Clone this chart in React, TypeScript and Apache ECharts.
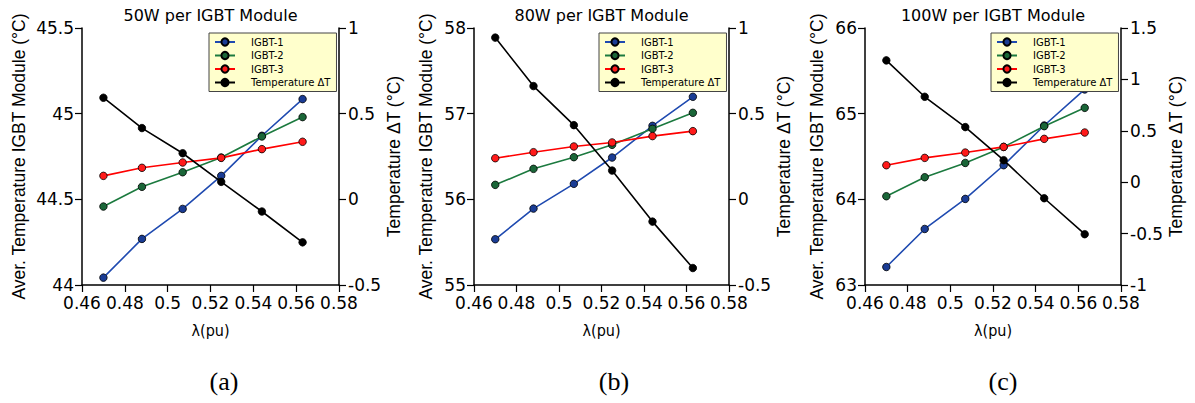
import React, { useEffect, useRef } from "react";
import * as echarts from "echarts";

// ---- data ----
const LAMBDA = [0.47, 0.488, 0.507, 0.525, 0.544, 0.563];
const X_TICKS = [0.46, 0.58, 0.02]; // min, max, interval

const PANEL_TITLES = ["50W per IGBT Module", "80W per IGBT Module", "100W per IGBT Module"];
const PANEL_TAGS = ["(a)", "(b)", "(c)"];
const SERIES_NAMES = ["IGBT-1", "IGBT-2", "IGBT-3", "Temperature ΔT"];

const A_IGBT1 = [44.043, 44.269, 44.444, 44.637, 44.871, 45.085];
const A_IGBT2 = [44.458, 44.573, 44.658, 44.744, 44.867, 44.98];
const A_IGBT3 = [44.637, 44.684, 44.715, 44.742, 44.793, 44.836];
const A_DT = [0.593, 0.416, 0.269, 0.102, -0.071, -0.251];

const B_IGBT1 = [55.534, 55.892, 56.181, 56.488, 56.858, 57.197];
const B_IGBT2 = [56.169, 56.356, 56.492, 56.636, 56.823, 57.01];
const B_IGBT3 = [56.48, 56.55, 56.617, 56.664, 56.738, 56.796];
const B_DT = [0.944, 0.661, 0.433, 0.168, -0.13, -0.401];

const C_IGBT1 = [63.21, 63.654, 64.005, 64.398, 64.862, 65.283];
const C_IGBT2 = [64.036, 64.258, 64.425, 64.612, 64.854, 65.068];
const C_IGBT3 = [64.398, 64.484, 64.546, 64.612, 64.706, 64.78];
const C_DT = [1.185, 0.831, 0.536, 0.214, -0.156, -0.506];

// left axis [min, max, interval], right axis [min, max, interval]
const LEFT_RANGES = [
  [44, 45.5, 0.5],
  [55, 58, 1],
  [63, 66, 1],
];
const RIGHT_RANGES = [
  [-0.5, 1, 0.5],
  [-0.5, 1, 0.5],
  [-1, 1.5, 0.5],
];

const PANEL_DATA = [
  [A_IGBT1, A_IGBT2, A_IGBT3, A_DT],
  [B_IGBT1, B_IGBT2, B_IGBT3, B_DT],
  [C_IGBT1, C_IGBT2, C_IGBT3, C_DT],
];

// ---- style ----
const COLORS = ["#1f4ab0", "#1c7a3f", "#ff0000", "#000000"];
const MARKER_FILL = ["#1a3c94", "#1a6638", "#ff1a1a", "#000000"];
const GRIDS = [
  { left: 82, width: 257, leftNameGap: 54 },
  { left: 474, width: 255, leftNameGap: 39 },
  { left: 865, width: 256, leftNameGap: 39 },
];
const TAG_X = [224, 614, 1003];
const GRID_TOP = 28;
const GRID_H = 257;

const WIDE = "DejaVu Sans, Verdana, sans-serif";
const ARIAL = "Liberation Sans, Arial, sans-serif";
const NARROW = "Liberation Sans Narrow, DejaVu Sans Condensed, Arial Narrow, sans-serif";

export default function App() {
  const ref = useRef<HTMLDivElement>(null);

  useEffect(() => {
    if (!ref.current) return;
    const chart = echarts.init(ref.current, null, { renderer: "svg" });

    const axisLine = { show: true, onZero: false, lineStyle: { color: "#000", width: 1.5 } };
    const axisTick = { show: true, inside: false, length: 7, lineStyle: { color: "#000", width: 1.2 } };

    const grid: any[] = [];
    const xAxis: any[] = [];
    const yAxis: any[] = [];
    const series: any[] = [];
    const legend: any[] = [];
    const graphic: any[] = [];

    GRIDS.forEach((g, p) => {
      grid.push({ left: g.left, top: GRID_TOP, width: g.width, height: GRID_H, containLabel: false });
      xAxis.push({
        type: "value",
        gridIndex: p,
        min: X_TICKS[0],
        max: X_TICKS[1],
        interval: X_TICKS[2],
        name: "λ(pu)",
        nameLocation: "middle",
        nameGap: 37,
        nameTextStyle: { color: "#000", fontSize: 16, fontFamily: NARROW },
        axisLine,
        axisTick,
        splitLine: { show: false },
        axisLabel: { color: "#000", fontSize: 17, fontFamily: WIDE, margin: 9 },
      });
      const L = LEFT_RANGES[p];
      const R = RIGHT_RANGES[p];
      yAxis.push({
        type: "value",
        gridIndex: p,
        position: "left",
        min: L[0],
        max: L[1],
        interval: L[2],
        name: "Aver. Temperature IGBT Module (°C)",
        nameLocation: "middle",
        nameGap: g.leftNameGap,
        nameTextStyle: { color: "#000", fontSize: 17.5, fontFamily: ARIAL },
        axisLine,
        axisTick,
        splitLine: { show: false },
        axisLabel: { color: "#000", fontSize: 17, fontFamily: WIDE, margin: 8 },
      });
      yAxis.push({
        type: "value",
        gridIndex: p,
        position: "right",
        min: R[0],
        max: R[1],
        interval: R[2],
        name: "Temperature ΔT (°C)",
        nameLocation: "middle",
        nameGap: 41,
        nameRotate: 90,
        nameTextStyle: { color: "#000", fontSize: 17.5, fontFamily: ARIAL },
        axisLine,
        axisTick,
        splitLine: { show: false },
        axisLabel: { color: "#000", fontSize: 17, fontFamily: WIDE, margin: 9 },
      });

      PANEL_DATA[p].forEach((vals, s) => {
        series.push({
          type: "line",
          name: SERIES_NAMES[s],
          xAxisIndex: p,
          yAxisIndex: s === 3 ? p * 2 + 1 : p * 2,
          data: LAMBDA.map((x, i) => [x, vals[i]]),
          symbol: "circle",
          symbolSize: 7.5,
          showSymbol: true,
          lineStyle: { color: COLORS[s], width: 1.6 },
          itemStyle: { color: MARKER_FILL[s], borderColor: "#000", borderWidth: 0.8 },
          z: 2 + s,
        });
      });

      legend.push({
        orient: "vertical",
        left: g.left + g.width - 130,
        top: 33,
        width: 125,
        padding: [4, 6, 4, 5],
        itemGap: 3.5,
        itemWidth: 20,
        itemHeight: 9,
        backgroundColor: "#ffffcc",
        borderColor: "#444",
        borderWidth: 1,
        borderRadius: 0,
        selectedMode: false,
        data: SERIES_NAMES,
        textStyle: { color: "#000", fontSize: 10, fontFamily: WIDE, padding: [0, 0, 0, 11] },
      });

      graphic.push({
        type: "text",
        x: g.left + g.width / 2,
        y: 15,
        style: {
          text: PANEL_TITLES[p],
          fill: "#000",
          font: `16px ${WIDE}`,
          textAlign: "center",
          textVerticalAlign: "middle",
        },
      });
      graphic.push({
        type: "text",
        x: TAG_X[p],
        y: 381,
        style: {
          text: PANEL_TAGS[p],
          fill: "#000",
          font: `26px Liberation Serif, Times New Roman, serif`,
          textAlign: "center",
          textVerticalAlign: "middle",
        },
      });
    });

    chart.setOption({
      animation: false,
      backgroundColor: "#fff",
      grid,
      xAxis,
      yAxis,
      series,
      legend,
      graphic,
    });

    return () => chart.dispose();
  }, []);

  return (
    <div
      ref={ref}
      style={{ position: "fixed", left: 0, top: 0, width: 1195, height: 403 }}
    />
  );
}
